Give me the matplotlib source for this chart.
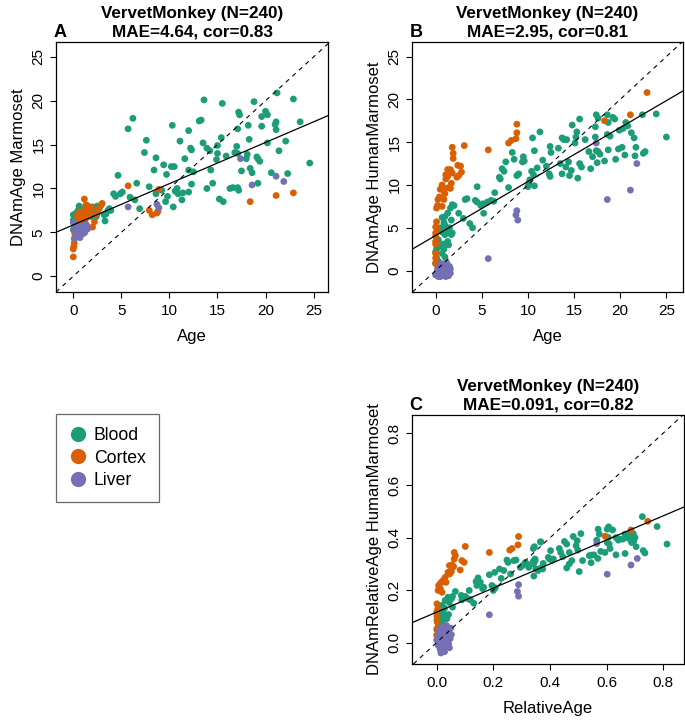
import numpy as np
import matplotlib
matplotlib.use('Agg')
import matplotlib.pyplot as plt
from matplotlib.lines import Line2D

plt.rcParams['font.family'] = ['Liberation Sans', 'DejaVu Sans']

# tissue colours (Dark2)
tissues = ['Blood', 'Cortex', 'Liver']
colors = {'Blood': '#1B9E77', 'Cortex': '#D95F02', 'Liver': '#7570B3'}

# ---- panel A: Age vs DNAmAge Marmoset ----
a_blood = [(13.6, 20.1), (15.5, 19.7), (18.8, 19.9), (21.2, 20.9), (22.9, 20.2), (17.2, 18.7), (17.3, 18.4),
           (20.0, 18.8), (20.2, 18.4), (19.6, 18.2), (23.6, 17.6), (21.0, 17.3), (21.1, 17.6), (10.3, 17.2),
           (13.1, 17.7), (13.3, 17.8), (17.1, 16.8), (18.2, 17.2), (19.6, 17.1), (21.1, 16.7), (11.1, 15.4),
           (12.0, 16.6), (13.5, 15.2), (15.4, 15.8), (18.3, 15.6), (20.2, 15.2), (22.1, 15.4), (13.9, 14.6),
           (15.0, 14.9), (14.2, 14.3), (12.2, 14.6), (12.3, 14.4), (17.0, 14.8), (18.1, 13.9), (17.1, 14.0),
           (21.4, 14.3), (15.0, 14.0), (14.9, 13.3), (15.9, 13.7), (19.1, 13.6), (19.2, 13.4), (18.0, 13.4),
           (19.4, 13.1), (16.8, 14.1), (11.6, 13.4), (8.6, 13.5), (9.4, 12.7), (8.4, 12.1), (9.7, 11.6),
           (10.2, 12.5), (10.5, 12.5), (12.0, 12.1), (12.5, 11.9), (14.3, 12.1), (17.5, 12.0), (18.4, 12.3),
           (18.6, 11.8), (20.6, 11.8), (22.3, 11.7), (12.3, 10.5), (13.9, 10.0), (14.5, 10.6), (16.3, 10.0),
           (16.6, 10.1), (17.2, 9.8), (17.1, 10.1), (19.2, 10.6), (10.8, 10.0), (12.0, 9.6), (11.3, 8.7),
           (10.9, 9.4), (11.4, 9.5), (9.8, 9.1), (9.6, 8.5), (10.6, 9.7), (10.4, 7.9), (15.2, 8.8), (15.6, 8.5),
           (7.9, 10.2), (6.4, 8.7), (5.9, 9.0), (6.9, 7.7), (4.2, 9.4), (4.4, 9.1), (4.9, 9.4), (5.1, 9.6),
           (24.6, 12.9), (3.3, 6.3), (5.7, 16.8), (6.2, 18.0), (7.6, 15.5), (7.4, 14.1), (4.65, 11.5),
           (6.6, 10.6), (8.6, 9.4), (9.2, 9.8),
           (0.0, 7.0), (0.0, 6.4), (0.0, 5.3), (0.1, 6.7), (0.3, 7.2), (0.35, 6.8), (0.6, 8.0), (0.5, 7.5),
           (0.8, 6.5), (1.0, 7.35), (1.1, 6.9), (1.3, 7.5), (1.4, 8.1), (1.6, 7.2), (1.8, 6.8), (2.0, 7.9),
           (2.1, 7.2), (2.4, 6.8), (2.5, 8.0), (2.5, 7.2), (2.7, 7.7), (2.9, 8.1), (3.2, 7.0), (3.4, 7.1),
           (3.6, 7.5), (3.75, 7.7), (3.9, 7.5), (1.2, 6.2), (0.7, 5.9), (0.2, 5.9), (0.4, 4.8), (1.5, 7.9),
           (1.9, 7.6), (0.9, 7.7)]
a_cortex = [(0.0, 2.2), (0.0, 3.1), (0.05, 3.4), (0.1, 3.8), (0.1, 4.3), (0.2, 4.7), (0.2, 5.3), (0.3, 5.6),
            (0.3, 6.0), (0.4, 5.0), (0.5, 5.8), (0.6, 6.3), (0.7, 5.4), (0.8, 6.7), (0.9, 7.1), (1.0, 6.1),
            (1.15, 8.8), (1.2, 7.5), (1.3, 6.6), (1.4, 5.8), (1.5, 7.9), (1.6, 6.9), (1.8, 7.4), (2.0, 5.6),
            (2.2, 6.2), (2.4, 7.1), (2.6, 7.6), (2.8, 8.0), (3.0, 8.3), (0.4, 6.8), (0.6, 7.3), (1.9, 7.8),
            (1.7, 7.9), (1.3, 8.1), (0.15, 4.9), (0.25, 5.8), (0.9, 5.2),
            (5.7, 10.3), (8.2, 7.0), (8.8, 7.4), (8.7, 7.2), (7.9, 7.5), (8.9, 9.9), (18.4, 8.5), (21.1, 9.2),
            (22.9, 9.5)]
a_liver = [(0.0, 6.1), (0.1, 5.6), (0.2, 5.2), (0.3, 4.8), (0.4, 5.5), (0.5, 4.6), (0.6, 5.0), (0.7, 4.4),
           (0.8, 5.7), (0.9, 4.8), (1.0, 5.2), (1.2, 5.0), (1.3, 5.9), (1.5, 5.4), (0.2, 6.0), (0.4, 4.5),
           (0.6, 5.9), (1.1, 4.9), (0.15, 4.3), (0.8, 5.3),
           (5.7, 7.9), (8.7, 8.2), (8.9, 7.8), (17.4, 13.4), (18.6, 10.4), (21.1, 11.4), (21.9, 10.8)]

# ---- panel B: Age vs DNAmAge HumanMarmoset ----
b_blood = [(11.3, 16.2), (10.5, 15.5), (10.7, 14.0), (11.6, 12.9), (11.0, 12.0), (10.4, 11.6), (10.6, 11.2),
           (10.2, 10.6), (10.7, 9.9), (12.0, 12.2), (12.4, 11.0), (12.3, 11.3), (12.4, 14.5), (12.5, 13.8),
           (13.3, 14.3), (13.7, 15.5), (13.9, 15.3), (14.2, 15.3), (14.8, 17.0), (15.6, 17.7), (15.3, 16.2),
           (15.2, 15.6), (15.1, 14.9), (16.2, 15.3), (17.4, 18.2), (17.6, 17.8), (18.6, 18.2), (19.2, 17.9),
           (19.4, 17.7), (18.7, 17.3), (17.3, 16.8), (17.3, 15.6), (18.6, 15.9), (18.9, 15.7), (19.9, 16.4),
           (20.3, 16.6), (20.6, 17.3), (20.8, 16.9), (21.2, 16.1), (21.5, 15.5), (22.4, 18.2), (23.9, 18.3),
           (25.0, 15.6), (16.6, 13.9), (17.0, 13.3), (17.6, 13.9), (17.8, 13.6), (17.4, 14.0), (18.7, 14.1),
           (18.3, 12.8), (19.5, 13.0), (19.8, 14.2), (20.2, 14.4), (20.5, 13.5), (21.7, 14.4), (21.6, 13.4),
           (22.5, 13.7), (22.7, 13.9), (15.6, 12.5), (15.8, 12.1), (14.7, 11.7), (14.5, 11.1), (15.4, 10.8),
           (16.8, 11.9), (17.5, 12.6), (13.7, 11.3), (14.1, 12.1), (13.5, 12.5), (14.4, 12.7),
           (8.3, 13.8), (9.5, 13.3), (8.5, 13.0), (9.4, 12.7), (9.6, 12.8), (7.6, 12.7), (7.2, 11.9),
           (7.4, 11.6), (6.9, 10.9), (7.0, 10.7), (9.0, 11.3), (8.8, 11.1), (10.1, 10.2), (10.0, 9.8),
           (7.9, 9.7), (4.5, 9.8), (6.4, 9.1), (6.3, 8.1), (6.0, 8.2), (5.1, 7.8), (4.9, 7.6), (5.6, 8.0),
           (5.2, 6.7), (4.3, 8.2), (4.5, 8.0), (3.2, 8.3), (3.4, 8.4), (2.5, 6.7), (1.8, 7.7), (2.0, 7.6),
           (1.6, 7.3), (3.0, 6.1), (3.7, 5.5), (4.0, 5.0), (1.3, 6.7), (1.0, 6.3), (0.7, 6.2), (1.7, 5.9),
           (1.5, 5.0), (0.9, 5.6), (1.0, 5.3), (1.2, 4.8), (0.7, 4.5), (1.0, 4.2), (1.3, 4.4), (1.7, 4.2),
           (0.3, 3.6), (0.8, 3.1), (1.3, 3.4), (1.8, 4.4), (1.4, 3.0), (0.1, 2.5), (0.7, 2.0), (0.1, 1.5),
           (0.3, 1.1), (0.9, 2.5), (1.0, 1.6), (0.0, 0.9), (0.3, 0.5), (0.0, 2.2), (0.2, 4.8), (0.5, 5.0),
           (0.4, 2.8)]
b_cortex = [(1.8, 14.4), (3.1, 14.6), (1.9, 13.7), (1.9, 13.1), (5.7, 14.1), (8.8, 17.1), (8.8, 16.1),
            (8.7, 15.4), (8.2, 15.2), (7.9, 14.9), (2.4, 12.3), (2.7, 12.2), (2.8, 11.5), (2.5, 11.1),
            (2.3, 10.9), (1.3, 11.8), (1.6, 11.8), (1.8, 11.4), (1.1, 11.2), (1.3, 11.0), (1.1, 10.7),
            (1.7, 10.2), (1.4, 9.7), (1.6, 9.6), (0.7, 10.0), (0.8, 9.7), (0.5, 9.5), (0.9, 9.3), (0.4, 8.6),
            (1.0, 9.0), (0.9, 8.3), (0.25, 8.3), (0.7, 7.5), (0.2, 7.6), (0.1, 7.3), (0.1, 5.7), (0.0, 5.1),
            (0.15, 5.0), (0.0, 4.4), (0.0, 4.0), (0.0, 3.4), (0.0, 3.1), (0.0, 2.0), (0.0, 1.45), (0.0, 0.8),
            (18.3, 17.5), (21.1, 18.2), (22.9, 20.8)]
b_liver = [(0.0, -0.5), (0.1, -0.3), (0.2, -0.6), (0.3, 0.1), (0.4, -0.4), (0.5, -0.7), (0.5, 0.3), (0.6, -0.2),
           (0.7, 0.5), (0.7, -0.6), (0.8, 0.0), (0.9, -0.4), (0.9, 0.8), (1.0, 0.2), (1.0, -0.5), (1.1, 0.6),
           (1.2, -0.2), (1.2, 0.9), (1.3, 0.3), (1.3, -0.5), (1.4, 0.1), (1.5, 0.5), (1.6, -0.3), (1.6, 0.2),
           (0.3, -0.7), (0.6, 0.8), (0.2, 0.2), (1.1, -0.7), (1.4, -0.6), (0.8, 0.7),
           (5.7, 1.4), (8.7, 6.5), (8.8, 7.0), (8.9, 5.9), (17.4, 14.9), (21.8, 12.5), (21.1, 9.4), (18.6, 8.3)]

# ---- panel C: RelativeAge vs DNAmRelativeAge HumanMarmoset ----
c_blood = [(0.366, 0.385), (0.345, 0.366), (0.319, 0.300), (0.313, 0.306), (0.325, 0.287), (0.280, 0.315),
           (0.272, 0.313), (0.248, 0.315), (0.252, 0.306), (0.295, 0.287), (0.303, 0.294), (0.348, 0.313),
           (0.342, 0.300), (0.350, 0.281), (0.358, 0.275), (0.366, 0.283), (0.222, 0.281), (0.237, 0.275),
           (0.261, 0.262), (0.228, 0.245), (0.205, 0.268), (0.186, 0.259), (0.146, 0.247), (0.154, 0.230),
           (0.166, 0.211), (0.162, 0.206), (0.142, 0.218), (0.139, 0.233), (0.195, 0.218), (0.207, 0.209),
           (0.200, 0.199), (0.131, 0.150), (0.101, 0.176), (0.110, 0.167), (0.119, 0.163), (0.089, 0.163),
           (0.087, 0.180), (0.115, 0.199), (0.066, 0.195), (0.056, 0.176), (0.052, 0.167), (0.040, 0.173),
           (0.030, 0.161), (0.044, 0.153), (0.056, 0.135), (0.019, 0.142), (0.028, 0.131), (0.016, 0.123),
           (0.025, 0.110), (0.007, 0.116), (0.013, 0.097), (0.030, 0.100), (0.042, 0.107), (0.036, 0.091),
           (0.001, 0.085), (0.007, 0.066), (0.001, 0.049), (0.019, 0.078), (0.021, 0.066),
           (0.341, 0.359), (0.368, 0.384), (0.347, 0.319), (0.341, 0.310), (0.376, 0.302), (0.374, 0.281),
           (0.343, 0.254), (0.394, 0.325), (0.406, 0.315), (0.398, 0.319), (0.412, 0.319), (0.402, 0.351),
           (0.433, 0.359), (0.438, 0.344), (0.445, 0.328), (0.451, 0.386), (0.459, 0.376), (0.468, 0.344),
           (0.482, 0.405), (0.492, 0.370), (0.496, 0.389), (0.498, 0.353), (0.509, 0.416), (0.477, 0.313),
           (0.468, 0.300), (0.459, 0.285), (0.503, 0.271), (0.515, 0.313), (0.547, 0.334), (0.555, 0.335),
           (0.539, 0.332), (0.545, 0.305), (0.569, 0.321), (0.565, 0.391), (0.570, 0.433), (0.574, 0.414),
           (0.579, 0.348), (0.594, 0.344), (0.612, 0.359), (0.609, 0.376), (0.602, 0.382), (0.606, 0.401),
           (0.607, 0.442), (0.602, 0.433), (0.621, 0.430), (0.633, 0.401), (0.641, 0.391), (0.647, 0.395),
           (0.657, 0.395), (0.665, 0.414), (0.671, 0.401), (0.676, 0.414), (0.682, 0.395), (0.688, 0.407),
           (0.694, 0.416), (0.700, 0.401), (0.696, 0.389), (0.688, 0.382), (0.704, 0.366), (0.633, 0.335),
           (0.665, 0.340), (0.729, 0.351), (0.735, 0.342), (0.726, 0.481), (0.778, 0.443), (0.813, 0.376)]
c_cortex = [(0.101, 0.367), (0.062, 0.344), (0.066, 0.332), (0.062, 0.319), (0.089, 0.313), (0.097, 0.306),
            (0.083, 0.277), (0.186, 0.344), (0.289, 0.405), (0.287, 0.373), (0.266, 0.359), (0.258, 0.353),
            (0.054, 0.297), (0.045, 0.294), (0.060, 0.290), (0.040, 0.268), (0.052, 0.271), (0.046, 0.262),
            (0.030, 0.249), (0.025, 0.239), (0.019, 0.233), (0.013, 0.226), (0.033, 0.230), (0.007, 0.218),
            (0.005, 0.199), (0.019, 0.192), (0.013, 0.205), (0.001, 0.148), (0.004, 0.129), (0.000, 0.116),
            (0.001, 0.100), (0.002, 0.078), (0.001, 0.053), (0.000, 0.028), (0.595, 0.406), (0.686, 0.430),
            (0.745, 0.463)]
c_liver = [(0.000, 0.010), (0.005, -0.010), (0.010, 0.030), (0.012, -0.025), (0.015, 0.045), (0.018, 0.000),
           (0.020, -0.020), (0.022, 0.060), (0.025, 0.020), (0.028, -0.035), (0.030, 0.040), (0.032, 0.005),
           (0.035, -0.015), (0.038, 0.050), (0.040, 0.025), (0.042, -0.005), (0.045, 0.035), (0.048, 0.015),
           (0.050, 0.055), (0.052, 0.030), (0.028, 0.010), (0.015, -0.040), (0.035, 0.065), (0.008, 0.050),
           (0.045, -0.020), (0.025, 0.000), (0.005, 0.025), (0.040, 0.000),
           (0.186, 0.106), (0.289, 0.221), (0.285, 0.195), (0.289, 0.177), (0.565, 0.378), (0.708, 0.321),
           (0.686, 0.296), (0.602, 0.261)]

# regression lines (intercept, slope) and panel headers
fit_a = (5.85, 0.47)
fit_b = (4.1, 0.63)
fit_c = (0.116, 0.46)
titles = ['VervetMonkey (N=240)\nMAE=4.64, cor=0.83',
          'VervetMonkey (N=240)\nMAE=2.95, cor=0.81',
          'VervetMonkey (N=240)\nMAE=0.091, cor=0.82']
letters = ['A', 'B', 'C']
xlabels = ['Age', 'Age', 'RelativeAge']
ylabels = ['DNAmAge Marmoset', 'DNAmAge HumanMarmoset', 'DNAmRelativeAge HumanMarmoset']

W, H = 685, 721
fig = plt.figure(figsize=(W / 100, H / 100), dpi=100)


def px_axes(left, top, right, bottom):
    return fig.add_axes([left / W, 1 - bottom / H, (right - left) / W, (bottom - top) / H])


ax_a = px_axes(56, 42, 328, 292)
ax_b = px_axes(412, 42, 683, 292)
ax_c = px_axes(412, 415, 684, 664)

panels = [
    (ax_a, [a_blood, a_cortex, a_liver], fit_a, (-1.8, 26.5), (-1.8, 26.7), np.arange(0, 26, 5), '%d'),
    (ax_b, [b_blood, b_cortex, b_liver], fit_b, (-2.56, 26.8), (-2.5, 26.7), np.arange(0, 26, 5), '%d'),
    (ax_c, [c_blood, c_cortex, c_liver], fit_c, (-0.087, 0.873), (-0.082, 0.869), np.arange(0, 0.81, 0.2), '%.1f'),
]

for i, (ax, groups, fit, xl, yl, ticks, fmt) in enumerate(panels):
    for tissue, pts in zip(tissues, groups):
        pts = np.array(pts)
        ax.scatter(pts[:, 0], pts[:, 1], s=24, color=colors[tissue], edgecolors='none', zorder=3)
    ax.axline((0, fit[0]), slope=fit[1], color='black', lw=0.9, zorder=4)
    ax.axline((0, 0), slope=1, color='black', lw=0.8, ls=(0, (4, 4)), zorder=4)
    ax.set_xlim(*xl)
    ax.set_ylim(*yl)
    ax.set_xticks(ticks)
    ax.set_yticks(ticks)
    ax.set_xticklabels([fmt % t for t in ticks])
    ax.set_yticklabels([fmt % t for t in ticks], rotation=90, va='center')
    ax.tick_params(direction='out', length=4.5, width=0.8, labelsize=11, pad=3)
    ax.tick_params(axis='x', pad=4)
    for sp in ax.spines.values():
        sp.set_linewidth(0.9)
    ax.set_xlabel(xlabels[i], fontsize=12, labelpad=8)
    ax.set_ylabel(ylabels[i], fontsize=12, labelpad=4)
    ax.set_title(titles[i], fontsize=12.3, fontweight='bold', linespacing=1.25, pad=4)
    ax.text(-0.01, 1.005, letters[i], transform=ax.transAxes, fontsize=13,
            fontweight='bold', ha='left', va='bottom')

handles = [Line2D([], [], marker='o', ls='none', markersize=11, color=colors[t],
                  markeredgecolor='none') for t in tissues]
leg = fig.legend(handles, tissues, loc='upper left', bbox_to_anchor=(56 / W, 1 - 414 / H),
                 fontsize=12.7, frameon=True, fancybox=False, edgecolor='#444444',
                 handletextpad=0.4, labelspacing=0.3, borderpad=0.75, handlelength=1.0,
                 borderaxespad=0)
leg.get_frame().set_linewidth(0.9)

fig.savefig('out.png', dpi=100)
